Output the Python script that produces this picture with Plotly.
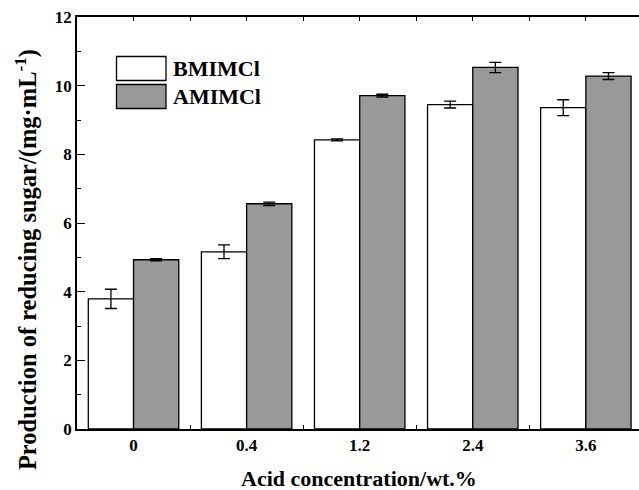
import plotly.graph_objects as go

categories = ["0", "0.4", "1.2", "2.4", "3.6"]
bmimcl = [3.79, 5.16, 8.42, 9.45, 9.36]
bmimcl_err = [0.28, 0.20, 0.03, 0.10, 0.23]
amimcl = [4.93, 6.56, 9.71, 10.53, 10.28]
amimcl_err = [0.03, 0.05, 0.04, 0.15, 0.10]
series_names = ["BMIMCl", "AMIMCl"]
y_ticks = [0, 2, 4, 6, 8, 10, 12]

FONT = "'Times New Roman', 'Liberation Serif', Times, serif"
pos = list(range(len(categories)))

fig = go.Figure()
fig.add_trace(go.Bar(
    x=pos, y=bmimcl, name=series_names[0],
    marker=dict(color="white", line=dict(color="black", width=1.3)),
    error_y=dict(type="data", array=bmimcl_err, color="black", thickness=1.3, width=6),
))
fig.add_trace(go.Bar(
    x=pos, y=amimcl, name=series_names[1],
    marker=dict(color="#999999", line=dict(color="black", width=1.3)),
    error_y=dict(type="data", array=amimcl_err, color="black", thickness=1.3, width=6),
))

fig.update_layout(
    width=639, height=490,
    margin=dict(l=77, r=0, t=17, b=61),
    barmode="group", bargap=0.2, bargroupgap=0,
    showlegend=False,
    plot_bgcolor="white", paper_bgcolor="white",
    font=dict(family=FONT, color="black"),
)
fig.update_xaxes(
    range=[-0.5, 4.47], tickvals=pos, ticktext=categories,
    showline=True, linecolor="black", linewidth=1.5, mirror="ticks",
    ticks="inside", ticklen=4, tickcolor="black", tickwidth=1,
    minor=dict(dtick=0.5, tick0=0.5, ticks="inside", ticklen=4, tickcolor="black", tickwidth=1),
    showgrid=False, zeroline=False,
    tickfont=dict(family=FONT, size=17, color="black", weight="bold"),
)
fig.update_yaxes(
    range=[0, 12], tickvals=y_ticks,
    showline=True, linecolor="black", linewidth=1.5, mirror=False,
    ticks="inside", ticklen=8, tickcolor="black", tickwidth=1,
    minor=dict(dtick=1, ticks="inside", ticklen=4, tickcolor="black", tickwidth=1),
    showgrid=False, zeroline=False,
    tickfont=dict(family=FONT, size=17, color="black", weight="bold"),
)

# axis titles
fig.add_annotation(
    text="<b>Acid concentration/wt.%</b>", xref="paper", yref="paper",
    x=0.5025, y=-0.121, xanchor="center", yanchor="middle", showarrow=False,
    font=dict(family=FONT, size=22, color="black"),
)
fig.add_annotation(
    text="<b>Production of reducing sugar/(mg·mL<sup>-1</sup>)</b>", xref="paper", yref="paper",
    x=-0.0907, y=0.41, xanchor="center", yanchor="middle", showarrow=False, textangle=-90,
    font=dict(family=FONT, size=24.5, color="black"),
)

# legend drawn manually
legend_fill = ["white", "#999999"]
for i, (nm, fc) in enumerate(zip(series_names, legend_fill)):
    y_top = 56.5 + i * 28
    y_bot = y_top + 24
    fig.add_shape(
        type="rect", xref="paper", yref="paper",
        x0=(116.5 - 77) / 562, x1=(166 - 77) / 562,
        y0=(429 - y_bot) / 412, y1=(429 - y_top) / 412,
        fillcolor=fc, line=dict(color="black", width=1.3),
    )
    fig.add_annotation(
        text="<b>%s</b>" % nm, xref="paper", yref="paper",
        x=(171 - 77) / 562, y=(429 - (y_top + 12)) / 412,
        xanchor="left", yanchor="middle", showarrow=False,
        font=dict(family=FONT, size=22, color="black"),
    )

fig.write_html("out.html")
